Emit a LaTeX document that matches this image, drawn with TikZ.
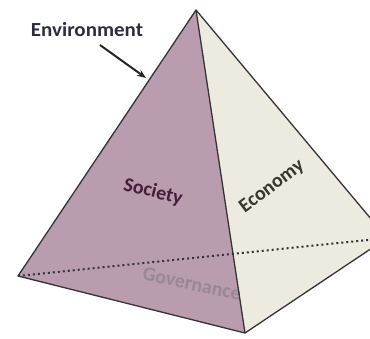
\documentclass[tikz,border=0pt]{standalone}
\usepackage{fontspec}
\setmainfont{Carlito}
\usetikzlibrary{arrows.meta}
\definecolor{soc}{RGB}{185,156,173}
\definecolor{eco}{RGB}{237,235,223}
\definecolor{edge}{RGB}{55,50,55}
\definecolor{envtxt}{RGB}{45,45,65}
\definecolor{soctxt}{RGB}{70,30,60}
\definecolor{ecotxt}{RGB}{55,55,45}
\definecolor{govtxt}{RGB}{140,130,138}
\tikzset{
  faceedge/.style={draw=edge, line width=1.3pt, line join=round},
  label/.style={font=\fontsize{20}{20}\selectfont\bfseries, inner sep=0pt},
  hidden/.style={draw=edge, line width=2pt, dash pattern=on 2pt off 3pt}
}
\begin{document}
\begin{tikzpicture}[x=1pt,y=-1pt]
\useasboundingbox (0,0) rectangle (370,338);
\clip (0,0) rectangle (370,338);
\coordinate (A) at (196,10);
\coordinate (L) at (18,276);
\coordinate (B) at (245,333);
\coordinate (R) at (387,238);
\fill[soc] (A) -- (L) -- (B) -- cycle;
\fill[eco] (A) -- (B) -- (R) -- cycle;
\node[label, text=govtxt, rotate=-12, opacity=0.75] (gov) at (192,284) {Governance};
\draw[hidden] (L) -- (R);
\draw[faceedge] (A) -- (L) -- (B) -- (R) -- cycle;
\draw[faceedge] (A) -- (B);
\node[label, text=soctxt, rotate=-14] (soc) at (153,192) {Society};
\node[label, text=ecotxt, rotate=37] (eco) at (272,187) {Economy};
\node[label, text=envtxt, xscale=1.05] (env) at (87,30) {Environment};
\coordinate (a1) at (100,45);
\coordinate (a2) at (146,78);
\draw[-{Stealth[length=9pt,width=7pt]}, line width=2pt, black!85] (a1) -- (a2);
\end{tikzpicture}
\end{document}
